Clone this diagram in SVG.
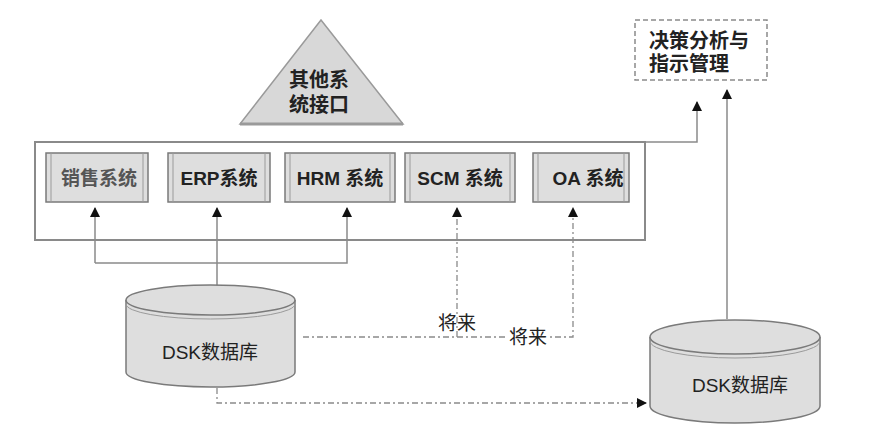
<svg xmlns="http://www.w3.org/2000/svg" width="871" height="428" viewBox="0 0 871 428">
<style>
text{font-family:"Liberation Sans","Noto Sans CJK SC",sans-serif;fill:#222;font-weight:bold}
.t{font-size:19px;text-anchor:middle}
.n{font-weight:normal}
.sys{fill:#dedede;stroke:#7a7a7a;stroke-width:1.5}
.in{fill:none;stroke:#9a9a9a;stroke-width:1}
.ln{fill:none;stroke:#8a8a8a;stroke-width:1.5}
.dl{fill:none;stroke:#8a8a8a;stroke-width:1.3;stroke-dasharray:6 3 2 3}
.cyl{fill:#dedede;stroke:#7a7a7a;stroke-width:1.5}
</style>
<defs>
<marker id="ah" markerWidth="10" markerHeight="10" refX="9" refY="5" orient="auto" markerUnits="userSpaceOnUse">
<path d="M0,0 L10,5 L0,10 Z" fill="#111"/>
</marker>
</defs>
<rect width="871" height="428" fill="#fff"/>

<g id="connectors">
<polyline class="ln" points="645,142 697,142 697,102" marker-end="url(#ah)"/>
<line class="ln" x1="727" y1="319" x2="727" y2="90" marker-end="url(#ah)"/>
<polyline class="ln" points="95,263 95,208" marker-end="url(#ah)"/>
<polyline class="ln" points="95,263 347,263 347,208" marker-end="url(#ah)"/>
<line class="ln" x1="217" y1="300" x2="217" y2="208" marker-end="url(#ah)"/>
<polyline class="dl" points="303,337 457,337 457,208" marker-end="url(#ah)"/>
<polyline class="dl" points="457,337 573,337 573,208" marker-end="url(#ah)"/>
<polyline class="dl" points="217,388 217,403 646,403" marker-end="url(#ah)"/>
</g>

<g id="outer">
<rect x="35" y="142" width="610" height="98" fill="none" stroke="#8a8a8a" stroke-width="2"/>
</g>

<g id="other">
<polygon points="321,20 240,124 403,124" fill="#d8d8d8" stroke="#9a9a9a" stroke-width="1.5"/>
<line x1="240" y1="124" x2="403" y2="124" stroke="#9a9a9a" stroke-width="3"/>
<text class="t" x="319" y="87" font-size="20" style="font-size:20px">其他系</text>
<text class="t" x="319" y="112" style="font-size:20px">统接口</text>
</g>

<g id="decision">
<rect x="635" y="20" width="132" height="60" fill="#fff" stroke="#8a8a8a" stroke-width="1.5" stroke-dasharray="5 3"/>
<text x="649" y="48" style="font-size:20px">决策分析与</text>
<text x="649" y="71" style="font-size:20px">指示管理</text>
</g>

<g id="sales">
<rect class="sys" x="46" y="153" width="102" height="49"/>
<line class="in" x1="51" y1="153" x2="51" y2="202"/><line class="in" x1="143" y1="153" x2="143" y2="202"/>
<text class="t" x="99" y="185" style="fill:#555">销售系统</text>
</g>
<g id="erp">
<rect class="sys" x="168" y="153" width="102" height="49"/>
<line class="in" x1="173" y1="153" x2="173" y2="202"/><line class="in" x1="265" y1="153" x2="265" y2="202"/>
<text class="t" x="219" y="185">ERP系统</text>
</g>
<g id="hrm">
<rect class="sys" x="285" y="153" width="110" height="49"/>
<line class="in" x1="290" y1="153" x2="290" y2="202"/><line class="in" x1="390" y1="153" x2="390" y2="202"/>
<text class="t" x="340" y="185">HRM 系统</text>
</g>
<g id="scm">
<rect class="sys" x="405" y="153" width="110" height="49"/>
<line class="in" x1="410" y1="153" x2="410" y2="202"/><line class="in" x1="510" y1="153" x2="510" y2="202"/>
<text class="t" x="460" y="185">SCM 系统</text>
</g>
<g id="oa">
<rect class="sys" x="533" y="153" width="96" height="49"/>
<line class="in" x1="538" y1="153" x2="538" y2="202"/><line class="in" x1="624" y1="153" x2="624" y2="202"/>
<text class="t" x="588" y="185">OA 系统</text>
</g>

<g id="db-left">
<path class="cyl" d="M126,300 L126,372 A84.5,15 0 0 0 295,372 L295,300"/>
<ellipse class="cyl" cx="210.5" cy="300" rx="84.5" ry="15"/>
<path class="in" d="M126,304 A84.5,15 0 0 0 295,304"/>
<text class="t n" x="210" y="359">DSK数据库</text>
</g>

<g id="db-right">
<path class="cyl" d="M650,337 L650,406 A85,17 0 0 0 820,406 L820,337"/>
<ellipse class="cyl" cx="735" cy="337" rx="85" ry="17"/>
<path class="in" d="M650,341 A85,17 0 0 0 820,341"/>
<text class="t n" x="740" y="392">DSK数据库</text>
</g>

<g id="labels">
<text class="t n" x="457" y="330">将来</text>
<rect x="507" y="328" width="42" height="18" fill="#fff"/>
<text class="t n" x="528" y="344">将来</text>
</g>
</svg>
